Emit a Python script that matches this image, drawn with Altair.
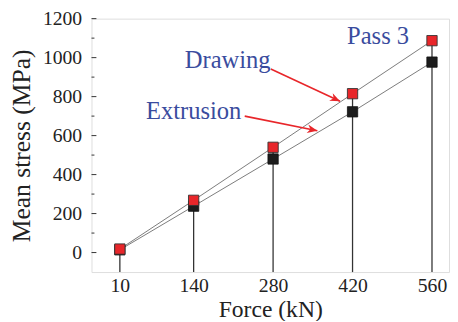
import math
import altair as alt
import pandas as pd

# ---- data ----
force = [10, 140, 280, 420, 560]
drawing = [18, 268, 540, 815, 1087]
extrusion = [14, 238, 480, 722, 977]
series_names = ["Drawing", "Extrusion"]

y_major = [0, 200, 400, 600, 800, 1000, 1200]
y_minor = [100, 300, 500, 700, 900, 1100]

labels = ["Drawing", "Extrusion", "Pass 3"]
label_x = [200, 140, 465]
label_y = [987, 725, 1108]

arrow_x = [276, 230]
arrow_y = [942, 700]
arrow_x2 = [398, 358]
arrow_y2 = [776, 625]

X_DOMAIN = [-40, 590]
Y_DOMAIN = [-100, 1200]
W, H = 364, 258

FONT = "Liberation Serif"
BLUE = "#3a4c9e"
RED = "#e8262a"

pts = pd.DataFrame({
    "force": force * 2,
    "stress": drawing + extrusion,
    "series": [series_names[0]] * 5 + [series_names[1]] * 5,
})
drops = pd.DataFrame({"force": force, "top": [max(a, b) for a, b in zip(drawing, extrusion)],
                      "bottom": [Y_DOMAIN[0]] * 5})

# arrow angle in pixel space
pxx = W / (X_DOMAIN[1] - X_DOMAIN[0])
pxy = H / (Y_DOMAIN[1] - Y_DOMAIN[0])
angles = [math.degrees(math.atan2((a - b) * pxy, (c - d) * pxx))
          for a, b, c, d in zip(arrow_y, arrow_y2, arrow_x2, arrow_x)]
arrows = pd.DataFrame({"x": arrow_x, "y": arrow_y, "x2": arrow_x2, "y2": arrow_y2, "angle": angles})
texts = pd.DataFrame({"label": labels, "x": label_x, "y": label_y})

xs = alt.Scale(domain=X_DOMAIN, nice=False, zero=False)
ys = alt.Scale(domain=Y_DOMAIN, nice=False, zero=False)

x_axis = alt.Axis(values=force, format="d", title="Force (kN)", grid=False, domain=False,
                  ticks=False, labelFont=FONT, labelFontSize=20, labelColor="#222",
                  labelPadding=4, titleFont=FONT, titleFontSize=24, titleFontWeight="normal",
                  titleColor="#222", titlePadding=2)
y_axis = alt.Axis(values=y_major, format="d", title="Mean stress (MPa)", grid=False, domain=False,
                  ticks=False, labelFont=FONT, labelFontSize=20, labelColor="#222",
                  labelPadding=10, titleFont=FONT, titleFontSize=26, titleFontWeight="normal",
                  titleColor="#222", titlePadding=8)

base = alt.Chart(pts)

lines = base.mark_line(color="#7a7a7a", strokeWidth=1).encode(
    x=alt.X("force:Q", scale=xs, axis=x_axis),
    y=alt.Y("stress:Q", scale=ys, axis=y_axis),
    detail="series:N",
)

drop_lines = alt.Chart(drops).mark_rule(color="#333", strokeWidth=1.3).encode(
    x=alt.X("force:Q", scale=xs), y=alt.Y("top:Q", scale=ys), y2="bottom:Q"
)

ext_pts = base.transform_filter(alt.datum.series == "Extrusion").mark_square(
    size=110, filled=True, color="#1c1c1c", stroke="#111", strokeWidth=0.8, opacity=1
).encode(x=alt.X("force:Q", scale=xs), y=alt.Y("stress:Q", scale=ys))

drw_pts = base.transform_filter(alt.datum.series == "Drawing").mark_square(
    size=110, filled=True, color=RED, stroke="#333", strokeWidth=0.9, opacity=1
).encode(x=alt.X("force:Q", scale=xs), y=alt.Y("stress:Q", scale=ys))

maj = alt.Chart(pd.DataFrame({"v": y_major})).mark_rule(color="#333", strokeWidth=1).encode(
    y=alt.Y("v:Q", scale=ys), x=alt.value(0), x2=alt.value(5))
mino = alt.Chart(pd.DataFrame({"v": y_minor})).mark_rule(color="#333", strokeWidth=1).encode(
    y=alt.Y("v:Q", scale=ys), x=alt.value(0), x2=alt.value(3))

arrow_lines = alt.Chart(arrows).mark_rule(color=RED, strokeWidth=1.6).encode(
    x=alt.X("x:Q", scale=xs), y=alt.Y("y:Q", scale=ys), x2="x2:Q", y2="y2:Q")
arrow_heads = alt.Chart(arrows).mark_point(
    shape="M0,0 L-1,-0.42 L-0.7,0 L-1,0.42 Z", filled=True, color=RED, size=420, opacity=1
).encode(x=alt.X("x2:Q", scale=xs), y=alt.Y("y2:Q", scale=ys), angle=alt.Angle("angle:Q", scale=None))

text = alt.Chart(texts).mark_text(font=FONT, fontSize=25, color=BLUE).encode(
    x=alt.X("x:Q", scale=xs), y=alt.Y("y:Q", scale=ys), text="label:N")

chart = alt.layer(lines, drop_lines, ext_pts, drw_pts, maj, mino, arrow_lines, arrow_heads, text).properties(
    width=W, height=H,
    autosize=alt.AutoSizeParams(type="none"),
    padding={"left": 85, "top": 8, "right": 1, "bottom": 47},
).configure_view(stroke="#333", strokeWidth=1.2).configure(background="white").configure_axis(
    labelFont=FONT, titleFont=FONT
)

chart.save("out.html", embed_options={"renderer": "svg", "actions": False})
